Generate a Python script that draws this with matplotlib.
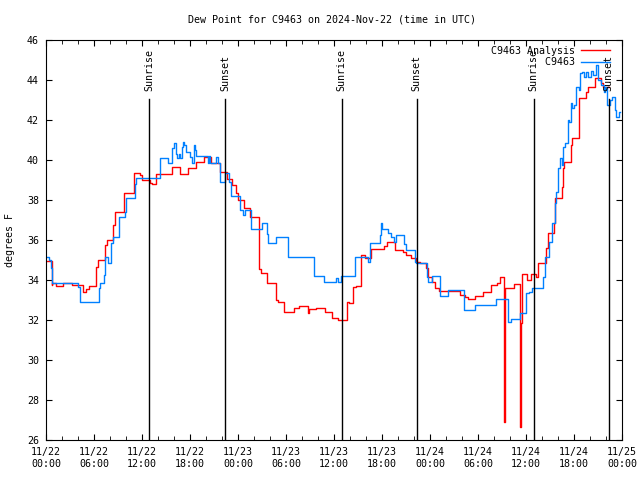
from datetime import datetime, timedelta
import matplotlib
matplotlib.use("Agg")
import matplotlib.pyplot as plt
import matplotlib.dates as mdates

# hours after 2024-11-22 00:00 UTC, dew point in deg F
analysis_hours = [0.0, 0.7, 0.8, 1.2, 2.1, 3.2, 4.6, 5.0, 5.4, 6.3, 6.5, 7.4, 7.6, 8.4, 8.6,
                  9.8, 11.0, 11.8, 12.0, 13.0, 13.3, 13.7, 15.7, 16.75, 17.8, 18.8, 19.75,
                  20.6, 21.8, 22.6, 23.3, 23.8, 24.0, 24.7, 25.5, 26.67, 26.9, 27.6, 28.0,
                  28.7, 29.0, 29.8, 31.0, 31.6, 32.7, 32.9, 33.8, 34.9, 35.8, 36.5, 37.6,
                  37.9, 38.4, 38.7, 39.4, 39.9, 40.6, 42.3, 42.6, 43.6, 44.6, 45.0, 45.6,
                  46.25, 46.7, 47.5, 47.8, 48.2, 48.6, 49.1, 51.7, 52.4, 52.7, 53.6, 54.6,
                  55.6, 56.4, 56.7, 57.2, 57.27, 57.3, 57.35, 57.4, 58.5, 59.25, 59.3,
                  59.35, 59.4, 59.45, 60.1, 60.6, 61.3, 61.5, 62.5, 62.8, 63.5, 63.6,
                  64.5, 64.6, 64.8, 65.6, 65.7, 66.6, 67.5, 67.8, 68.6, 69.4, 69.6, 70.4]
analysis_vals = [34.95, 33.75, 33.83, 33.7, 33.83, 33.75, 33.42, 33.55, 33.7, 34.67, 35.0,
                 35.75, 36.0, 36.75, 37.42, 38.33, 39.37, 39.25, 39.0, 38.83, 38.8, 39.28,
                 39.63, 39.3, 39.58, 39.88, 40.17, 39.83, 39.38, 39.03, 38.75, 38.33, 38.0,
                 37.6, 37.13, 34.55, 34.33, 33.87, 33.83, 33.0, 32.88, 32.38, 32.62, 32.7,
                 32.33, 32.53, 32.6, 32.38, 32.12, 32.0, 32.92, 32.83, 33.63, 33.7, 35.25,
                 35.08, 35.53, 35.7, 35.88, 35.5, 35.42, 35.25, 35.12, 34.92, 34.83, 34.58,
                 34.17, 33.92, 33.58, 33.45, 33.25, 33.13, 33.03, 33.2, 33.42, 33.75, 33.87,
                 34.13, 32.4, 28.7, 26.92, 28.7, 33.58, 33.8, 28.5, 26.67, 28.5, 31.83,
                 34.28, 34.0, 34.28, 34.17, 34.87, 35.58, 36.37, 36.83, 38.08, 38.67, 39.58,
                 39.92, 40.75, 41.08, 43.08, 43.42, 43.67, 44.08, 43.83, 43.67, 43.67]

obs_hours = [0.0, 0.4, 0.6, 0.8, 4.0, 4.25, 6.6, 6.75, 7.25, 7.4, 7.75, 8.1, 8.4, 9.1, 9.9,
             10.0, 11.1, 11.3, 13.0, 14.3, 15.3, 15.8, 16.0, 16.2, 16.4, 16.6, 16.75, 17.0,
             17.1, 17.3, 17.5, 18.0, 18.3, 18.45, 18.6, 18.8, 20.2, 20.35, 20.5, 21.3,
             21.55, 21.7, 22.4, 22.9, 23.1, 24.3, 24.6, 24.9, 25.6, 26.95, 27.6, 27.8,
             28.7, 30.3, 33.5, 34.8, 36.3, 36.5, 36.9, 38.6, 40.3, 40.5, 41.8, 41.9, 42.0,
             42.7, 43.1, 43.5, 43.75, 44.7, 45.0, 46.1, 46.3, 47.6, 47.7, 48.3, 49.25,
             50.3, 52.25, 53.6, 56.3, 57.7, 58.1, 59.3, 60.0, 60.4, 60.7, 62.1, 62.4, 62.9,
             63.3, 63.6, 63.8, 64.0, 64.3, 64.5, 64.6, 64.9, 65.2, 65.4, 65.6, 65.8, 66.0,
             66.3, 66.6, 66.75, 67.0, 67.2, 67.5, 67.8, 68.1, 68.4, 68.8, 69.0, 69.4, 69.7,
             69.9, 70.15, 70.5, 70.8, 71.1, 71.3, 71.6, 71.8]
obs_vals = [35.13, 35.0, 34.58, 33.87, 33.67, 32.88, 33.58, 33.83, 34.25, 35.17, 34.87,
            35.83, 36.13, 37.13, 37.42, 38.08, 38.8, 39.12, 39.08, 40.08, 39.87, 40.58,
            40.83, 40.3, 40.08, 40.3, 40.08, 40.67, 40.92, 40.75, 40.42, 40.17, 39.83,
            40.75, 40.5, 40.2, 39.87, 40.2, 39.87, 40.17, 39.83, 38.92, 39.37, 38.92, 38.2,
            37.5, 37.25, 37.5, 36.53, 36.83, 36.3, 35.83, 36.13, 35.13, 34.2, 33.92, 34.1,
            33.92, 34.2, 35.13, 34.9, 35.83, 36.25, 36.83, 36.53, 36.33, 36.17, 35.9,
            36.25, 35.8, 35.5, 34.9, 34.83, 34.17, 33.92, 34.2, 33.2, 33.5, 32.5, 32.75,
            33.03, 31.92, 32.03, 32.37, 33.33, 33.4, 33.58, 34.17, 35.17, 35.92, 36.83,
            37.83, 38.42, 39.58, 40.08, 39.75, 40.67, 40.83, 42.0, 41.92, 42.83, 42.58,
            42.75, 43.67, 43.5, 44.33, 44.42, 44.17, 44.42, 44.17, 44.47, 44.25, 44.75,
            44.0, 43.75, 43.42, 43.67, 42.75, 43.0, 43.17, 42.5, 42.17, 42.4, 42.4]

sun_hours = [12.92, 22.41, 36.96, 46.34, 60.96, 70.34]
sun_labels = ["Sunrise", "Sunset", "Sunrise", "Sunset", "Sunrise", "Sunset"]

start = datetime(2024, 11, 22)
def t(h):
    return start + timedelta(hours=h)

plt.rcParams['font.family'] = 'DejaVu Sans Mono'
plt.rcParams['font.size'] = 7.2

fig = plt.figure(figsize=(6.4, 4.8), dpi=100)
ax = fig.add_axes([46/640, 40/480, 576/640, 400/480])

ax.plot([t(h) for h in analysis_hours], analysis_vals, color='#ff0000', lw=1.0,
        drawstyle='steps-post', label='C9463 Analysis')
ax.plot([t(h) for h in obs_hours], obs_vals, color='#0080ff', lw=1.0,
        drawstyle='steps-post', label='         C9463')

for h, lab in zip(sun_hours, sun_labels):
    ax.axvline(t(h), ymin=0, ymax=(43.05 - 26) / 20, color='black', lw=1.0)
    ax.text(t(h), 43.45, lab, rotation=90, ha='center', va='bottom')

ax.set_xlim(t(0), t(72))
ax.set_ylim(26, 46)
ax.set_yticks(range(26, 47, 2))
ax.xaxis.set_major_locator(mdates.HourLocator(byhour=[0, 6, 12, 18]))
ax.xaxis.set_minor_locator(mdates.HourLocator(interval=2))
ax.xaxis.set_major_formatter(mdates.DateFormatter('%m/%d\n%H:%M'))
ax.tick_params(direction='in', top=True, right=True, which='both', pad=5)
ax.tick_params(which='major', length=4.5)
ax.tick_params(which='minor', length=3)

ax.legend(loc='upper right', bbox_to_anchor=(0.99, 1.0), markerfirst=False,
          frameon=False, handlelength=2.9, borderaxespad=0.2, labelspacing=0.15,
          handletextpad=0.6)

fig.text(332/640, 1 - 20/480, 'Dew Point for C9463 on 2024-Nov-22 (time in UTC)',
         ha='center', va='center')
fig.text(10/640, 0.5, 'degrees F', rotation=90, ha='center', va='center')

fig.savefig('out.png', dpi=100)
